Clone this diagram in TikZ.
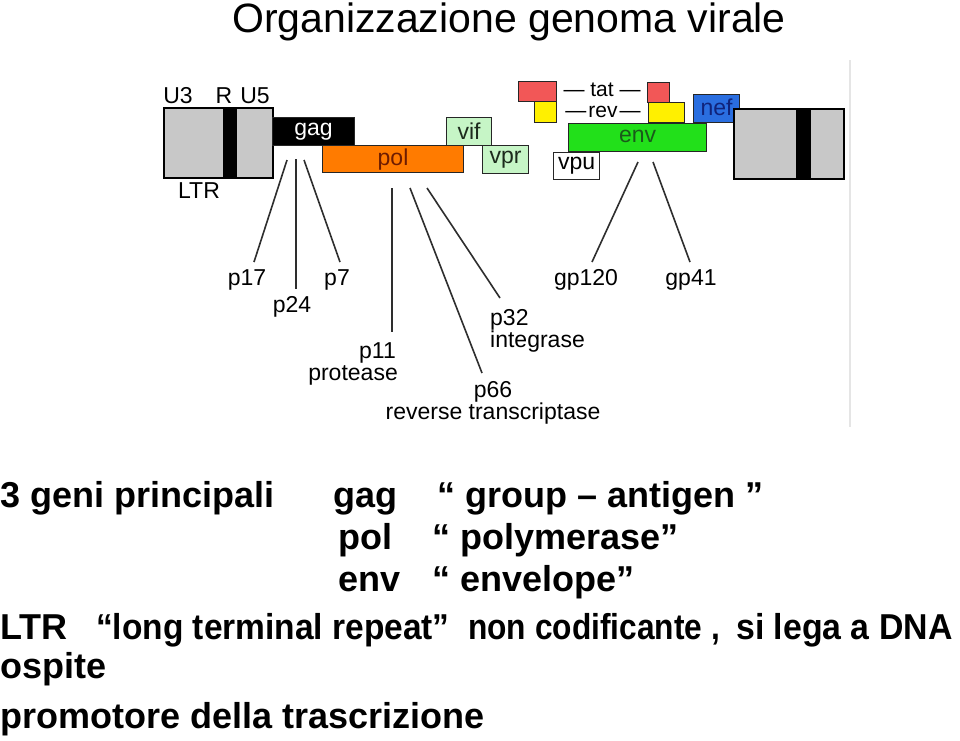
\documentclass[tikz,border=0pt]{standalone}
\usepackage{fontspec}
\usepackage{graphicx}
\setmainfont{Liberation Sans}
\definecolor{ltrgray}{HTML}{C8C8C8}
\definecolor{polorange}{HTML}{FF7B00}
\definecolor{poltext}{HTML}{6E1C00}
\definecolor{vgreen}{HTML}{C6F5C6}
\definecolor{vtext}{HTML}{1C2A1C}
\definecolor{tatred}{HTML}{F25757}
\definecolor{revyellow}{HTML}{FFF000}
\definecolor{nefblue}{HTML}{2A6EE0}
\definecolor{neftext}{HTML}{10237A}
\definecolor{envgreen}{HTML}{22E01A}
\definecolor{envtext}{HTML}{1A5A1A}
\definecolor{linegray}{HTML}{2E2E2E}
\tikzset{
  ltr/.style={draw=black, fill=ltrgray, line width=1.5pt, inner sep=0pt, anchor=north west},
  gene/.style={draw=black!85, line width=1.1pt, inner sep=0pt, anchor=north west,
    font=\fontsize{23}{23}\selectfont},
  lbl/.style={inner sep=0pt, anchor=base, font=\fontsize{23}{23}\selectfont},
  cut/.style={draw=linegray, line width=1.6pt},
  big/.style={inner sep=0pt, anchor=base west, font=\fontsize{36}{36}\selectfont\bfseries},
}
\begin{document}
\begin{tikzpicture}[x=1pt,y=-1pt]
  \fill[white] (0,0) rectangle (960,740);
  \useasboundingbox (0,0) rectangle (960,740);
  \node[inner sep=0pt, anchor=base, font=\fontsize{41}{41}\selectfont] (title) at (509,32) {Organizzazione genoma virale};
  \draw[black!10, line width=1.5pt] (850,60) -- (850,427);
  % LTR a sinistra
  \node[ltr, minimum width=109, minimum height=70] (ltrL) at (163,107) {};
  \fill (223,107) rectangle (237,177);
  \node[lbl] (u3) at (178,103) {U3};
  \node[lbl] (r) at (224,103) {R};
  \node[lbl] (u5) at (255,103) {U5};
  \node[lbl] (ltrlab) at (199,198) {LTR};
  % geni
  \node[gene, fill=black, text=white, minimum width=82, minimum height=28] (gag) at (272,117) {gag};
  \node[gene, fill=polorange, text=poltext, minimum width=141, minimum height=27] (pol) at (322,145) {pol};
  \node[gene, fill=vgreen, text=vtext, minimum width=45, minimum height=28] (vif) at (446,117) {vif};
  \node[gene, fill=vgreen, text=vtext, minimum width=46, minimum height=28] (vpr) at (482,145) {vpr};
  \node[gene, fill=tatred, minimum width=38, minimum height=20] (tatL) at (518,81) {};
  \node[gene, fill=revyellow, minimum width=22, minimum height=21] (revL) at (534,101) {};
  \node[gene, fill=tatred, minimum width=22, minimum height=20] (tatR) at (647,82) {};
  \node[gene, fill=revyellow, minimum width=36, minimum height=20] (revR) at (648,102) {};
  \node[lbl, font=\fontsize{21}{21}\selectfont] (tat) at (602,96) {— tat —};
  \node[lbl, font=\fontsize{21}{21}\selectfont] (rev) at (603,117) {—\hspace{2pt}rev\hspace{2pt}—};
  \node[gene, fill=nefblue, text=neftext, minimum width=46, minimum height=28] (nef) at (693,94) {\raisebox{3pt}{nef}};
  \node[gene, fill=envgreen, text=envtext, minimum width=138, minimum height=28] (env) at (568,123) {\raisebox{3pt}{env}};
  \node[gene, fill=white, minimum width=46, minimum height=27] (vpu) at (553,152) {vpu};
  % LTR a destra
  \node[ltr, minimum width=110, minimum height=70] (ltrR) at (733,108) {};
  \fill (796,108) rectangle (811,178);
  % proteine
  \coordinate (g17) at (287,160); \coordinate (e17) at (254,262);
  \coordinate (g24) at (296,159); \coordinate (e24) at (296,289);
  \coordinate (g7) at (304,160);  \coordinate (e7) at (340,262);
  \coordinate (g11) at (392,188); \coordinate (e11) at (392,332);
  \coordinate (g66) at (410,188); \coordinate (e66) at (482,373);
  \coordinate (g32) at (427,188); \coordinate (e32) at (500,298);
  \coordinate (g120) at (638,162); \coordinate (e120) at (592,262);
  \coordinate (g41) at (653,162);  \coordinate (e41) at (690,262);
  \draw[cut] (g17) -- (e17);
  \draw[cut] (g24) -- (e24);
  \draw[cut] (g7) -- (e7);
  \draw[cut] (g11) -- (e11);
  \draw[cut] (g66) -- (e66);
  \draw[cut] (g32) -- (e32);
  \draw[cut] (g120) -- (e120);
  \draw[cut] (g41) -- (e41);
  \node[lbl] (p17) at (247,285) {p17};
  \node[lbl] (p24) at (292,312) {p24};
  \node[lbl] (p7) at (337,285) {p7};
  \node[lbl, anchor=base east] (p11) at (396,358) {p11};
  \node[lbl, anchor=base east] (protease) at (398,380) {protease};
  \node[lbl] (p66) at (493,397) {p66};
  \node[lbl] (rt) at (493,419) {reverse transcriptase};
  \node[lbl, anchor=base west] (p32) at (490,325) {p32};
  \node[lbl, anchor=base west] (integrase) at (490,347) {integrase};
  \node[lbl] (gp120) at (586,285) {gp120};
  \node[lbl] (gp41) at (691,285) {gp41};
  % testo
  \node[big] (geni) at (0,507) {3 geni principali};
  \node[big] (tgag) at (333,507) {gag};
  \node[big] (tgroup) at (437,507) {“ group – antigen ”};
  \node[big] (tpol) at (338,549) {pol};
  \node[big] (tpolym) at (432,549) {“ polymerase”};
  \node[big] (tenv) at (338,591) {env};
  \node[big] (tenvel) at (432,591) {“ envelope”};
  \node[big] (tltr) at (0,639) {LTR};
  \node[big] (tlong) at (96,639) {\scalebox{0.93}[1]{“long terminal repeat”}};
  \node[big] (tnon) at (468,639) {\scalebox{0.88}[1]{non codificante ,}};
  \node[big] (tsi) at (736,639) {\scalebox{0.94}[1]{si lega a DNA}};
  \node[big] (tosp) at (0,678) {ospite};
  \node[big] (tprom) at (0,728) {promotore della trascrizione};
\end{tikzpicture}
\end{document}
